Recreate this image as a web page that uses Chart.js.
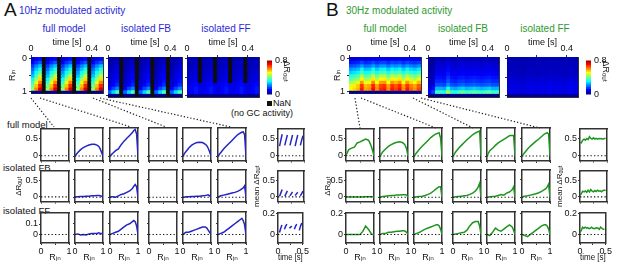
<!DOCTYPE html>
<html><head><meta charset="utf-8">
<script src="https://cdn.jsdelivr.net/npm/chart.js@4.4.1/dist/chart.umd.min.js"></script>
<style>
html,body{margin:0;padding:0;background:#fff;}
body{position:relative;width:617px;height:266px;overflow:hidden;font-family:"Liberation Sans",Arial,"DejaVu Sans",sans-serif;}
canvas{position:absolute;}
.t{position:absolute;white-space:nowrap;line-height:1;color:#111;}
.c{transform:translateX(-50%);}
</style></head><body>
<svg width="617" height="266" style="position:absolute;left:0;top:0">
 <g stroke="#222" stroke-width="1.2" stroke-dasharray="1.3 2" fill="none">
  <line x1="31" y1="98" x2="54" y2="127"/>
  <line x1="40" y1="98" x2="131" y2="127"/>
  <line x1="93" y1="98" x2="166" y2="127"/>
  <line x1="100" y1="98" x2="231" y2="127"/>
  <line x1="355" y1="98" x2="360" y2="128"/>
  <line x1="361" y1="98" x2="436" y2="128"/>
  <line x1="413" y1="98" x2="473" y2="128"/>
  <line x1="421" y1="98" x2="540" y2="128"/>
 </g>
</svg>
<div class="t" style="left:4px;top:0px;font-size:19px">A</div>
<div class="t" style="left:19px;top:6px;font-size:10px;color:#2a2ad8">10Hz modulated activity</div>
<div class="t c" style="left:64px;top:24px;font-size:10px;color:#2a2ad8">full model</div>
<div class="t c" style="left:146px;top:24px;font-size:10px;color:#2a2ad8">isolated FB</div>
<div class="t c" style="left:226px;top:24px;font-size:10px;color:#2a2ad8">isolated FF</div>
<div class="t" style="left:7px;top:120px;font-size:9.5px">full model</div>
<div class="t" style="left:3px;top:163px;font-size:9.5px">isolated FB</div>
<div class="t" style="left:3px;top:206px;font-size:9.5px">isolated FF</div>
<div style="position:absolute;left:267px;top:101px;width:5px;height:5px;background:#111"></div>
<div class="t" style="left:273px;top:99px;font-size:9px">NaN</div>
<div class="t c" style="left:262px;top:109px;font-size:9px">(no GC activity)</div>
<div class="t" style="left:326px;top:0px;font-size:19px">B</div>
<div class="t" style="left:346px;top:6px;font-size:10px;color:#2f9a2f">30Hz modulated activity</div>
<div class="t c" style="left:385px;top:24px;font-size:10px;color:#2f9a2f">full model</div>
<div class="t c" style="left:463px;top:24px;font-size:10px;color:#2f9a2f">isolated FB</div>
<div class="t c" style="left:545px;top:24px;font-size:10px;color:#2f9a2f">isolated FF</div>
<script>
// ---------------- data ----------------
const rInRows = [0,0.1,0.2,0.3,0.4,0.5,0.6,0.7,0.8,0.9,1];
const timeBins = [0.0125,0.0375,0.0625,0.0875,0.1125,0.1375,0.1625,0.1875,0.2125,0.2375,0.2625,0.2875,0.3125,0.3375,0.3625,0.3875,0.4125,0.4375,0.4625];
const timeTicks = [0,0.2,0.4];
const cbarSteps = [0,0.04,0.08,0.12,0.16,0.2,0.24,0.28,0.32,0.36,0.4,0.44,0.48,0.52,0.56,0.6,0.64,0.68,0.72,0.76];

// heatmaps: row profile over R_in and column weight over time (null = NaN, no GC activity)
const heatA_full_rows = [0.1,0.16,0.24,0.3,0.36,0.42,0.5,0.57,0.64,0.7,0.02];
const heatA_full_cols = [0.6,0.85,1.05,null,0.6,0.85,1.05,null,0.6,0.85,1.05,null,0.6,0.85,1.05,null,0.6,0.85,1.05];
const heatA_fb_rows = [0.04,0.06,0.07,0.08,0.09,0.1,0.11,0.13,0.2,0.36,0.01];
const heatA_fb_cols = [0.5,0.75,1.0,null,0.5,0.75,1.0,null,0.5,0.75,1.0,null,0.5,0.75,1.0,null,0.5,0.75,1.0];
const heatA_ff_rows = [0.04,0.05,0.05,0.06,0.06,0.07,0.08,0.09,0.1,0.1,0.02];
const heatA_ff_cols = [0.8,1.0,1.15,null,0.8,1.0,1.15,null,0.8,1.0,1.15,null,0.8,1.0,1.15,null,0.8,1.0,1.15];
const heatA_ff_nanDepth = 0.6;
const heatA_ff_gapLevel = 0.9;
const heatB_full_rows = [0.08,0.14,0.2,0.27,0.33,0.4,0.46,0.53,0.6,0.62,0.02];
const heatB_full_cols = [0.8,0.85,0.9,1.1,0.92,0.95,1.12,0.95,1.08,1.1,0.95,1.1,1.05,1.12,0.95,1.1,1.0,0.95,1.05];
const heatB_fb_rows = [0.04,0.06,0.07,0.08,0.09,0.11,0.13,0.16,0.24,0.34,0.01];
const heatB_fb_cols = [0.3,0.45,1.0,1.0,0.95,1.3,1.0,0.95,1.05,1.1,1.0,1.05,1.1,1.05,1.0,1.05,1.1,1.0,1.0];
const heatB_ff_rows = [0.04,0.045,0.045,0.05,0.05,0.06,0.07,0.075,0.08,0.08,0.02];
const heatB_ff_cols = [0.9,1,1,0.95,0.9,1,1.05,1,0.95,1.05,1,1.1,1,1.05,1,0.95,1.05,1.1,1];

// ΔR_out vs R_in profiles
const rGrid = [0,0.05,0.1,0.2,0.3,0.4,0.5,0.6,0.7,0.8,0.85,0.9,0.95,1];
const A_full_2 = [0,0.05,0.1,0.18,0.24,0.28,0.31,0.33,0.33,0.3,0.27,0.2,0.1,0];
const A_full_3 = [0,0.04,0.08,0.15,0.2,0.32,0.42,0.5,0.58,0.66,0.72,0.75,0.62,0];
const A_full_5 = [0,0.07,0.12,0.22,0.3,0.35,0.38,0.39,0.38,0.33,0.29,0.22,0.12,0];
const A_full_6 = [0,0.05,0.1,0.2,0.28,0.36,0.44,0.52,0.6,0.65,0.67,0.68,0.6,0];
const A_fb_2 = [0,0.01,0.01,0.02,0.02,0.03,0.03,0.04,0.04,0.05,0.05,0.04,0.03,0];
const A_fb_3 = [0,0.01,0.01,0.0,0.04,0.08,0.1,0.14,0.18,0.25,0.32,0.37,0.3,0];
const A_fb_5 = [0,0,0.01,0.01,0.02,0.02,0.03,0.03,0.04,0.05,0.06,0.07,0.04,0];
const A_fb_6 = [0,0.02,0.04,0.06,0.08,0.1,0.12,0.14,0.17,0.21,0.24,0.27,0.33,0];
const A_ff_2 = [0,0.003,0.005,-0.005,0,-0.005,0.005,0.008,0.01,0.012,0.015,0.01,0.008,0];
const A_ff_3 = [0,0.005,0.01,0.02,0.03,0.05,0.07,0.09,0.1,0.12,0.13,0.12,0.08,0];
const A_ff_5 = [0,0.01,0.02,0.02,0.03,0.04,0.05,0.06,0.07,0.07,0.06,0.04,0.02,0];
const A_ff_6 = [0,0.005,0.01,0.02,0.04,0.06,0.08,0.1,0.12,0.14,0.15,0.13,0.09,0];
const B_full_1 = [0,0.1,0.18,0.22,0.25,0.37,0.4,0.44,0.48,0.45,0.38,0.28,0.15,0];
const B_full_2 = [0,0.06,0.12,0.2,0.27,0.32,0.36,0.39,0.4,0.38,0.35,0.3,0.2,0];
const B_full_3 = [0,0.05,0.1,0.2,0.28,0.36,0.44,0.52,0.58,0.63,0.64,0.65,0.5,0];
const B_full_4 = [0,0.06,0.12,0.22,0.3,0.38,0.46,0.53,0.6,0.65,0.67,0.69,0.71,0];
const B_full_5 = [0,0.08,0.15,0.22,0.3,0.37,0.42,0.47,0.52,0.57,0.58,0.58,0.58,0];
const B_full_6 = [0,0.05,0.1,0.2,0.28,0.35,0.42,0.48,0.55,0.62,0.64,0.66,0.62,0];
const B_fb_1 = [0,0,0,0,0,0,0,0,0.005,0.005,0.005,0.005,0.005,0];
const B_fb_2 = [0,0.01,0.02,0.03,0.04,0.05,0.05,0.06,0.06,0.07,0.07,0.07,0.06,0];
const B_fb_3 = [0,0.005,0.01,0.02,0.03,0.05,0.08,0.12,0.18,0.25,0.28,0.3,0.3,0];
const B_fb_4 = [0,0.005,0.01,0.02,0.03,0.04,0.05,0.08,0.12,0.18,0.23,0.3,0.4,0];
const B_fb_5 = [0,0.005,0.01,0.02,0.03,0.05,0.08,0.06,0.12,0.15,0.18,0.22,0.3,0];
const B_fb_6 = [0,0.02,0.03,0.04,0.06,0.08,0.1,0.13,0.17,0.22,0.25,0.3,0.38,0];
const B_ff_1 = [0,0,0,0,0,0,0,0.03,0.08,0.05,0.03,0.01,0,0];
const B_ff_2 = [0,0.005,0.01,0.01,0.02,0.02,0.025,0.03,0.03,0.035,0.035,0.03,0.02,0];
const B_ff_3 = [0,0.005,0.01,0.02,0.035,0.05,0.06,0.07,0.08,0.09,0.09,0.08,0.05,0];
const B_ff_4 = [0,0.002,0.005,0.01,0.015,0.02,0.04,0.08,0.11,0.12,0.12,0.12,0.08,0];
const B_ff_5 = [0,-0.005,-0.01,0.02,0.06,0.04,0.03,0.05,0.07,0.09,0.08,0.07,0.04,0];
const B_ff_6 = [0,-0.005,-0.01,-0.02,0,0.02,0.04,0.06,0.08,0.09,0.09,0.08,0.05,0];

// mean ΔR_out vs time
const meanTimeA = [0.03,0.055,0.08,0.09,0.13,0.155,0.18,0.19,0.23,0.255,0.28,0.29,0.33,0.355,0.38,0.39,0.43,0.455,0.48,0.49];
const A_mean_full = [0.28,0.45,0.62,null,0.3,0.45,0.6,null,0.3,0.45,0.6,null,0.28,0.45,0.6,null,0.3,0.45,0.58,null];
const A_mean_fb = [0.02,0.12,0.22,null,0.02,0.1,0.18,null,0.03,0.09,0.15,null,0.04,0.09,0.14,null,0.03,0.1,0.17,null];
const A_mean_ff = [0.02,0.06,0.09,null,0.05,0.08,0.1,null,0.06,0.07,0.08,null,0.05,0.08,0.1,null,0.04,0.08,0.11,null];
const meanTimeB = [0,0.025,0.05,0.075,0.1,0.125,0.15,0.175,0.2,0.225,0.25,0.275,0.3,0.325,0.35,0.375,0.4,0.425,0.45,0.475];
const B_mean_full = [0.38,0.37,0.45,0.48,0.45,0.5,0.47,0.55,0.5,0.48,0.52,0.48,0.5,0.48,0.5,0.49,0.5,0.48,0.5,0.5];
const B_mean_fb = [0.05,0.1,0.17,0.15,0.18,0.14,0.2,0.15,0.22,0.17,0.15,0.19,0.16,0.2,0.17,0.18,0.15,0.19,0.2,0.2];
const B_mean_ff = [0.02,0.04,0.07,0.06,0.07,0.06,0.065,0.055,0.06,0.07,0.06,0.055,0.06,0.065,0.06,0.05,0.07,0.06,0.05,0.05];

// ---------------- drawing ----------------
const FR = '#333';
const FW = 1.5;
const BLUE = '#2424c8', GREEN = '#1f951f';
Chart.defaults.font.family = '"Liberation Sans", Arial, "DejaVu Sans", sans-serif';
Chart.defaults.font.size = 9;
Chart.defaults.color = '#111';

function cl(v){return Math.max(0,Math.min(1,v));}
function jet(v){
  if(v===null) return '#0d0d0d';
  const t = cl(v/0.8);
  const r = cl(1.5-Math.abs(4*t-3)), g = cl(1.5-Math.abs(4*t-2)), b = cl(1.5-Math.abs(4*t-1));
  return `rgb(${Math.round(r*255)},${Math.round(g*255)},${Math.round(b*255)})`;
}
function fix(px){return s=>{ if(s.isHorizontal()) s.height=px; else s.width=px; };}
function tickSet(vals){return s=>{ s.ticks = vals.map(v=>({value:v})); };}
function canvasAt(x,y,w,h,m){
  const c=document.createElement('canvas');
  const W=w+m.l+m.r, H=h+m.t+m.b;
  c.width=W; c.height=H;
  c.style.left=(x-m.l)+'px'; c.style.top=(y-m.t)+'px';
  c.style.width=W+'px'; c.style.height=H+'px';
  document.body.appendChild(c);
  return c;
}
function frameAxis(pos,size,w){
  return {type:'linear',position:pos,min:0,max:1,display:true,ticks:{display:false},
    grid:{display:false,drawTicks:false},border:{display:true,color:FR,width:w||FW},afterFit:fix(size)};
}
const baseOpts = {responsive:false,animation:false,events:[],devicePixelRatio:1,layout:{padding:0},
  plugins:{legend:{display:false},tooltip:{enabled:false}}};

function linePlot(o){
  const m={l:o.ml||6,r:6,t:6,b:o.xlab?20:6};
  const c=canvasAt(o.x,o.y,o.w,o.h,m);
  const ds=[{data:[{x:0,y:0},{x:o.xmax,y:0}],borderColor:'#111',borderWidth:1.1,borderDash:[1.3,2.2],pointRadius:0}];
  if(o.ys) ds.push({data:o.xs.map((x,i)=>({x,y:o.ys[i]})),borderColor:o.color,borderWidth:1.5,pointRadius:0,spanGaps:false});
  new Chart(c,{type:'line',data:{datasets:ds},options:Object.assign({},baseOpts,{scales:{
    x:{type:'linear',position:'bottom',min:0,max:o.xmax,afterBuildTicks:tickSet(o.xticks),
       ticks:{display:!!o.xlab,autoSkip:false,maxRotation:0,padding:1,callback:v=>o.xlabels.includes(v)?String(v):''},
       grid:{drawOnChartArea:false,tickLength:2,color:FR},border:{display:true,color:FR,width:FW},
       title:{display:!!o.xlab,text:o.xtitle||'',padding:0},afterFit:fix(m.b)},
    y:{type:'linear',position:'left',min:o.ymin,max:o.ymax,afterBuildTicks:tickSet(o.yticks),
       ticks:{display:!!o.ylab,autoSkip:false,padding:1,callback:v=>String(v)},
       grid:{drawOnChartArea:false,tickLength:2,color:FR},border:{display:true,color:FR,width:FW},
       title:{display:!!o.ytitle,text:o.ytitle||'',padding:0,font:{size:8}},afterFit:fix(m.l)},
    xTop:frameAxis('top',m.t), yRight:frameAxis('right',m.r)
  }})});
}

function cellValue(o,i,j){
  const c=o.cols[j], r=o.rows[i];
  if(c===null){
    if(o.nanDepth!==undefined && rInRows[i]>o.nanDepth) return r*o.gapLevel;
    return null;
  }
  return r*c;
}
function heatmap(o){
  const m={l:o.ml||5,r:4,t:20,b:4};
  const c=canvasAt(o.x,o.y,o.w,o.h,m);
  const datasets=rInRows.map((r,i)=>({
    data:timeBins.map(t=>({x:t,y:[r-0.05,r+0.05]})),
    backgroundColor:timeBins.map((t,j)=>jet(cellValue(o,i,j))),
    borderWidth:0,grouped:false,barPercentage:1,categoryPercentage:1,inflateAmount:0.5
  }));
  new Chart(c,{type:'bar',data:{datasets},options:Object.assign({},baseOpts,{scales:{
    x:{type:'linear',position:'top',offset:false,min:0,max:0.475,afterBuildTicks:tickSet(timeTicks),
       ticks:{autoSkip:false,maxRotation:0,padding:1,callback:v=>(v===0||v===0.4)?String(v):''},
       grid:{offset:false,drawOnChartArea:false,tickLength:2,color:FR},border:{display:true,color:FR,width:1},
       title:{display:true,text:'time [s]',padding:0},afterFit:fix(m.t)},
    y:{type:'linear',position:'left',reverse:true,min:-0.05,max:1.05,afterBuildTicks:tickSet([0,0.5,1]),
       ticks:{display:!!o.ylab,autoSkip:false,padding:2,callback:v=>v===0.5?'':String(v)},
       grid:{drawOnChartArea:false,tickLength:2,color:FR},border:{display:true,color:FR,width:1},
       title:{display:!!o.ylab,text:'Rᵢₙ',padding:0},afterFit:fix(m.l)},
    xB:frameAxis('bottom',m.b,1), yR:frameAxis('right',m.r,1)
  }})});
}

function colorbar(o){
  const m={l:1,r:20,t:6,b:6};
  const c=canvasAt(o.x,o.y,o.w,o.h,m);
  const datasets=cbarSteps.map(v=>({data:[[v,v+0.04]],backgroundColor:jet(v+0.02),borderWidth:0,
    grouped:false,barPercentage:1,categoryPercentage:1,inflateAmount:0.5}));
  new Chart(c,{type:'bar',data:{labels:[''],datasets},options:Object.assign({},baseOpts,{
    layout:{padding:{left:m.l,top:m.t,bottom:m.b,right:0}},
    scales:{
      x:{display:false},
      y:{type:'linear',position:'right',min:0,max:0.8,afterBuildTicks:tickSet([0,0.8]),
         ticks:{padding:3,callback:v=>String(v)},grid:{display:false,drawTicks:false},border:{display:false},
         title:{display:true,text:'ΔRₒᵤₜ',align:'end',padding:0},afterFit:fix(m.r)}
    }})});
}

// ---- layout of the small multiples ----
const rowTops=[128,170,212], rowH=[33,32,31];
const rowRange=[[-0.14,0.79],[-0.14,0.79],[-0.08,0.21]];
const rowYTicksA=[[0,0.5],[0,0.5],[0,0.1]];
const rowYTicksB=[[0,0.5],[0,0.5],[0,0.2]];
const colsA=[41,75,110,149,183,218], colsB=[346,380,414,453,487,522];
const seriesA=[[null,A_full_2,A_full_3,null,A_full_5,A_full_6],
               [null,A_fb_2,A_fb_3,null,A_fb_5,A_fb_6],
               [null,A_ff_2,A_ff_3,null,A_ff_5,A_ff_6]];
const seriesB=[[B_full_1,B_full_2,B_full_3,B_full_4,B_full_5,B_full_6],
               [B_fb_1,B_fb_2,B_fb_3,B_fb_4,B_fb_5,B_fb_6],
               [B_ff_1,B_ff_2,B_ff_3,B_ff_4,B_ff_5,B_ff_6]];
const meanA=[A_mean_full,A_mean_fb,A_mean_ff], meanB=[B_mean_full,B_mean_fb,B_mean_ff];
const meanRange=[[-0.14,0.79],[-0.14,0.79],[-0.08,0.21]];
const meanYTicks=[[0,0.5],[0,0.5],[0,0.2]];

heatmap({x:31,y:57,w:72,h:40,rows:heatA_full_rows,cols:heatA_full_cols,ylab:true,ml:24});
heatmap({x:108,y:57,w:74,h:40,rows:heatA_fb_rows,cols:heatA_fb_cols});
heatmap({x:187,y:57,w:72,h:40,rows:heatA_ff_rows,cols:heatA_ff_cols,nanDepth:heatA_ff_nanDepth,gapLevel:heatA_ff_gapLevel});
colorbar({x:267,y:58,w:5,h:39});
heatmap({x:349,y:57,w:72,h:40,rows:heatB_full_rows,cols:heatB_full_cols,ylab:true,ml:17});
heatmap({x:428,y:57,w:71,h:40,rows:heatB_fb_rows,cols:heatB_fb_cols});
heatmap({x:507,y:57,w:71,h:40,rows:heatB_ff_rows,cols:heatB_ff_cols});
colorbar({x:586,y:58,w:5,h:39});

for(let r=0;r<3;r++){
  for(let k=0;k<6;k++){
    linePlot({x:colsA[k],y:rowTops[r],w:28,h:rowH[r],xs:rGrid,ys:seriesA[r][k],color:BLUE,
      xmax:1,xticks:[0,0.5,1],xlabels:[0,1],xlab:r===2,xtitle:'Rᵢₙ',
      ymin:rowRange[r][0],ymax:rowRange[r][1],yticks:rowYTicksA[r],ylab:k===0,
      ytitle:(k===0&&r===1)?'ΔRₒᵤₜ':'',ml:k===0?27:6});
    linePlot({x:colsB[k],y:rowTops[r],w:28,h:rowH[r],xs:rGrid,ys:seriesB[r][k],color:GREEN,
      xmax:1,xticks:[0,0.5,1],xlabels:[0,1],xlab:r===2,xtitle:'Rᵢₙ',
      ymin:rowRange[r][0],ymax:rowRange[r][1],yticks:rowYTicksB[r],ylab:k===0,
      ytitle:(k===0&&r===1)?'ΔRₒᵤₜ':'',ml:k===0?23:6});
  }
  linePlot({x:278,y:rowTops[r],w:26,h:rowH[r],xs:meanTimeA,ys:meanA[r],color:BLUE,
    xmax:0.5,xticks:[0,0.25,0.5],xlabels:[0,0.5],xlab:r===2,xtitle:'time [s]',
    ymin:meanRange[r][0],ymax:meanRange[r][1],yticks:meanYTicks[r],ylab:true,
    ytitle:r===1?'mean ΔRₒᵤₜ':'',ml:26});
  linePlot({x:580,y:rowTops[r],w:27,h:rowH[r],xs:meanTimeB,ys:meanB[r],color:GREEN,
    xmax:0.5,xticks:[0,0.25,0.5],xlabels:[0,0.5],xlab:r===2,xtitle:'time [s]',
    ymin:meanRange[r][0],ymax:meanRange[r][1],yticks:meanYTicks[r],ylab:true,
    ytitle:r===1?'mean ΔRₒᵤₜ':'',ml:25});
}
</script></body></html>
